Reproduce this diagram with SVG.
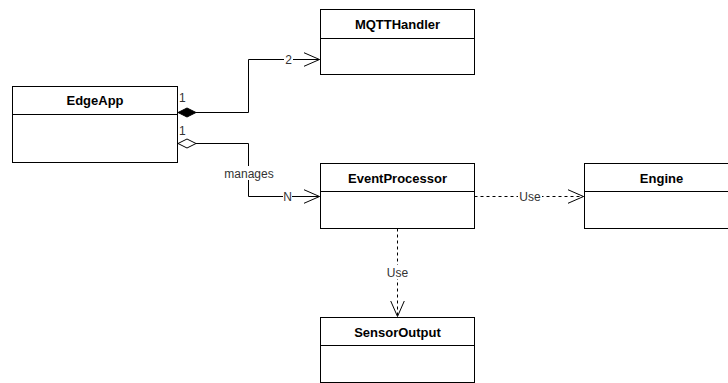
<svg xmlns="http://www.w3.org/2000/svg" width="728" height="383" viewBox="0 0 728 383">
  <style>
    .box { fill: #ffffff; stroke: #000000; stroke-width: 1; }
    .div { stroke: #000000; stroke-width: 1; fill: none; }
    .title { font-family: "Liberation Sans", Arial, sans-serif; font-size: 13px; font-weight: bold; fill: #000000; text-anchor: middle; }
    .edge { fill: none; stroke: #000000; stroke-width: 1; }
    .dash { stroke-dasharray: 3 3; }
    .lbl { font-family: "Liberation Sans", Arial, sans-serif; font-size: 12px; fill: #333333; }
    .lblbg { fill: #ffffff; }
  </style>
  <defs>
    <marker id="open" viewBox="0 0 17 16" refX="16" refY="8" markerWidth="17" markerHeight="16" markerUnits="userSpaceOnUse" orient="auto">
      <path d="M0,1 L16,8 L0,15" fill="none" stroke="#000000" stroke-width="1"/>
    </marker>
  </defs>

  <rect width="728" height="383" fill="#ffffff"/>

  <!-- connectors -->
  <g id="connectors">
    <!-- composition EdgeApp -> MQTTHandler -->
    <path class="edge" d="M196,112.5 H248.5 V59.5 H319.5" marker-end="url(#open)"/>
    <path d="M178,112.5 L187,108 L196,112.5 L187,117 Z" fill="#000000" stroke="#000000"/>
    <text class="lbl" x="179" y="102">1</text>
    <rect class="lblbg" x="284" y="53" width="9" height="13"/>
    <text class="lbl" x="288.5" y="64" text-anchor="middle">2</text>

    <!-- aggregation EdgeApp -> EventProcessor -->
    <path class="edge" d="M196,143.5 H248.5 V196.5 H319.5" marker-end="url(#open)"/>
    <path d="M178,143.5 L187,139 L196,143.5 L187,148 Z" fill="#ffffff" stroke="#000000"/>
    <text class="lbl" x="179" y="135">1</text>
    <rect class="lblbg" x="223" y="166" width="52" height="14"/>
    <text class="lbl" x="249" y="177.5" text-anchor="middle">manages</text>
    <rect class="lblbg" x="283" y="190" width="9" height="13"/>
    <text class="lbl" x="287.5" y="201" text-anchor="middle">N</text>

    <!-- dependency EventProcessor -> Engine -->
    <path class="edge dash" d="M474.5,196.5 H583.5" marker-end="url(#open)"/>
    <rect class="lblbg" x="518" y="190" width="24" height="13"/>
    <text class="lbl" x="530" y="201" text-anchor="middle">Use</text>

    <!-- dependency EventProcessor -> SensorOutput -->
    <path class="edge dash" d="M397.5,228.5 V316.5" marker-end="url(#open)"/>
    <rect class="lblbg" x="385" y="265" width="25" height="14"/>
    <text class="lbl" x="397.5" y="276.5" text-anchor="middle">Use</text>
  </g>

  <!-- classes -->
  <g id="EdgeApp">
    <rect class="box" x="12.5" y="86.5" width="165" height="76"/>
    <line class="div" x1="12.5" y1="114.5" x2="177.5" y2="114.5"/>
    <text class="title" x="95" y="105">EdgeApp</text>
  </g>

  <g id="MQTTHandler">
    <rect class="box" x="320.5" y="9.5" width="154" height="65"/>
    <line class="div" x1="320.5" y1="38.5" x2="474.5" y2="38.5"/>
    <text class="title" x="397.5" y="28.5">MQTTHandler</text>
  </g>

  <g id="EventProcessor">
    <rect class="box" x="320.5" y="163.5" width="154" height="65"/>
    <line class="div" x1="320.5" y1="191.5" x2="474.5" y2="191.5"/>
    <text class="title" x="397.5" y="182.5">EventProcessor</text>
  </g>

  <g id="Engine">
    <rect class="box" x="584.5" y="163.5" width="154" height="65"/>
    <line class="div" x1="584.5" y1="191.5" x2="738.5" y2="191.5"/>
    <text class="title" x="661.5" y="182.5">Engine</text>
  </g>

  <g id="SensorOutput">
    <rect class="box" x="320.5" y="317.5" width="154" height="65"/>
    <line class="div" x1="320.5" y1="345.5" x2="474.5" y2="345.5"/>
    <text class="title" x="397.5" y="336.5">SensorOutput</text>
  </g>
</svg>
